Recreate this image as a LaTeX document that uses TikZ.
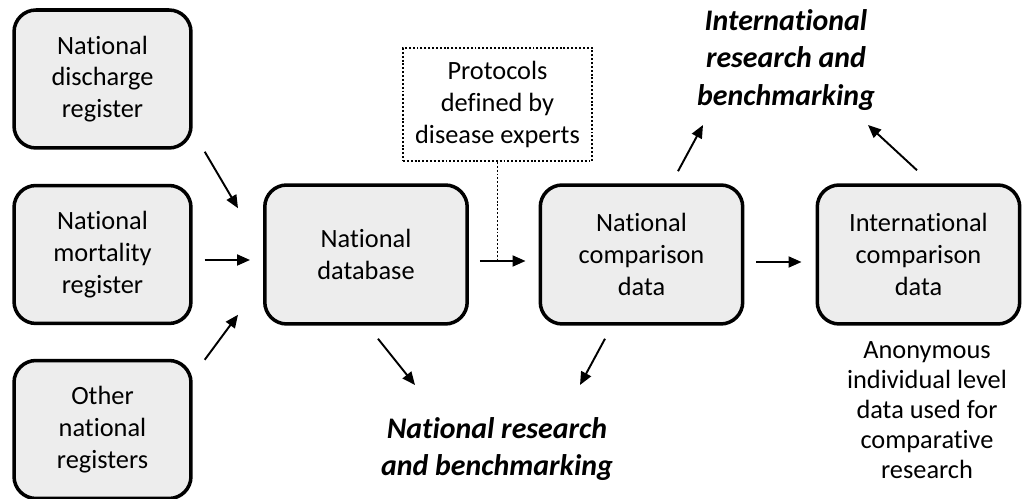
\documentclass[tikz,border=0pt]{standalone}
\usepackage{fontspec}
\setmainfont{Carlito}[RawFeature={-liga;-clig;-dlig}]
\usepackage{xcolor}
\usetikzlibrary{arrows.meta}
\definecolor{boxgray}{HTML}{EDEDED}

\begin{document}
\begin{tikzpicture}[x=0.02cm, y=-0.02cm,
	regbox/.style={fill=boxgray, draw=black, line width=2pt, rounded corners=0.44cm, align=center, minimum width=3.54cm, minimum height=2.76cm, font={\fontsize{15}{18}\selectfont}},
	databox/.style={regbox, minimum width=4.05cm, minimum height=2.78cm},
	protobox/.style={draw=black, line width=1.1pt, dash pattern=on 1.1pt off 1.1pt, align=center, minimum width=3.78cm, minimum height=2.26cm, font={\fontsize{15}{18}\selectfont}},
	goal/.style={align=center, font={\fontsize{17}{21.3}\selectfont\bfseries\itshape}},
	note/.style={align=center, font={\fontsize{15}{17}\selectfont}},
	arr/.style={line width=1.1pt, -{Triangle[length=0.26cm, width=0.22cm]}}]
	\useasboundingbox (0,0) rectangle (1022,499);
	\node [regbox] (discharge) at (102.5, 79) {National\\ discharge\\ register};
	\node [regbox] (mortality) at (102.5, 254.5) {National\\ mortality\\ register};
	\node [regbox] (other) at (102.5, 429.5) {Other\\ national\\ registers};
	\node [databox] (database) at (366, 254.5) {National\\ database};
	\node [databox] (natcomp) at (641.5, 254.5) {National\\ comparison\\ data};
	\node [databox] (intlcomp) at (918.5, 254.5) {International\\ comparison\\ data};
	\node [protobox] (protocols) at (497.5, 104.5) {Protocols\\ defined by\\ disease experts};
	\node [goal] (natres) at (497, 449) {National research\\ and benchmarking};
	\node [goal] (intlres) at (786, 60) {International\\ research and\\ benchmarking};
	\node [note] (anon) at (927, 410) {Anonymous\\ individual level\\ data used for\\ comparative\\ research};
	\draw [arr] ([shift={(12,2)}]discharge.south east) to ([shift={(-25,25)}]database.north west);
	\draw [arr] ([shift={(12,5.5)}]mortality.east) to ([shift={(-13,5.5)}]database.west);
	\draw [arr] ([shift={(12,1)}]other.north east) to ([shift={(-25,-11)}]database.south west);
	\draw [arr] ([shift={(11,6.5)}]database.east) to ([shift={(-13,6.5)}]natcomp.west) coordinate (natin);
	\draw [line width=1.1pt, dash pattern=on 1.1pt off 1.1pt] (protocols.south) to (protocols.south |- natin);
	\draw [arr] ([shift={(12,7.5)}]natcomp.east) to ([shift={(-14,7.5)}]intlcomp.west);
	\draw [arr] ([shift={(12,13)}]database.south) to ([shift={(-82,-64)}]natres.center);
	\draw [arr] ([shift={(-36.5,13)}]natcomp.south) to ([shift={(83,-64)}]natres.center);
	\draw [arr] ([shift={(36.5,-12)}]natcomp.north) to ([shift={(-83,65)}]intlres.center);
	\draw [arr] ([shift={(-1.5,-13)}]intlcomp.north) to ([shift={(82,65)}]intlres.center);
\end{tikzpicture}
\end{document}
